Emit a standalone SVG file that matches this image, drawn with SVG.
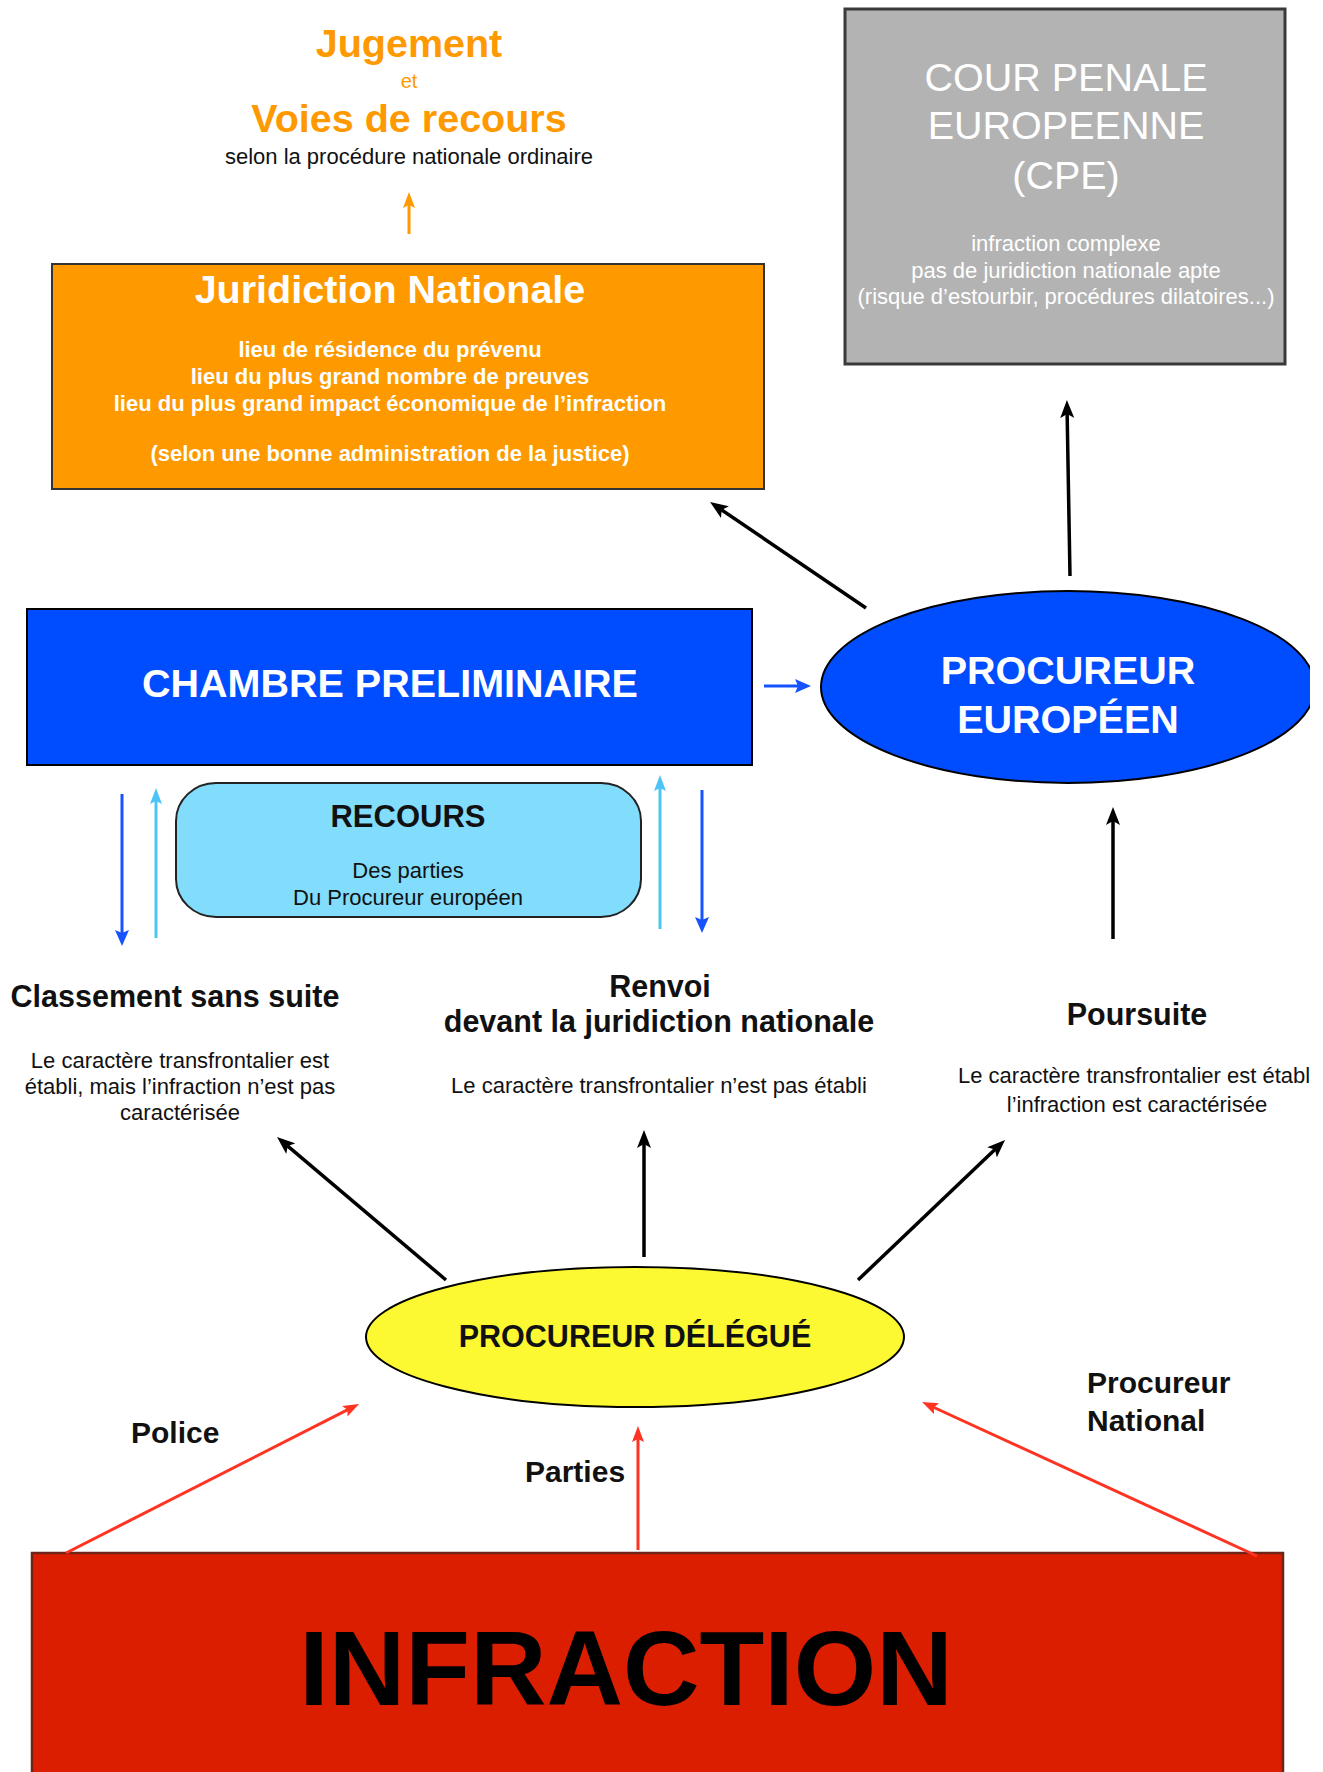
<svg xmlns="http://www.w3.org/2000/svg" width="1323" height="1772" viewBox="0 0 1323 1772">
<defs>
<style>
text{font-family:"Liberation Sans",Arial,Helvetica,sans-serif;}
.b{font-weight:bold}
.c{text-anchor:middle}
.w{fill:#ffffff}
.k{fill:#111111}
.o{fill:#ff9900}
.ln{fill:none;stroke-linecap:butt}
.lk{stroke:#000;stroke-width:3.5}
.lr{stroke:#ff3322;stroke-width:3}
.lb{stroke:#1652ff;stroke-width:3}
.lc{stroke:#4cc4f5;stroke-width:3}
.lo{stroke:#ff9900;stroke-width:3}
</style>
<marker id="ah-k" viewBox="0 0 18 14" refX="12" refY="7" markerWidth="18" markerHeight="14" markerUnits="userSpaceOnUse" orient="auto"><path d="M0,0 L18,7 L0,14 L4,7 z" fill="#000"/></marker>
<marker id="ah-r" viewBox="0 0 16 12" refX="10" refY="6" markerWidth="16" markerHeight="12" markerUnits="userSpaceOnUse" orient="auto"><path d="M0,0 L16,6 L0,12 L3,6 z" fill="#ff3322"/></marker>
<marker id="ah-b" viewBox="0 0 16 14" refX="10" refY="7" markerWidth="16" markerHeight="14" markerUnits="userSpaceOnUse" orient="auto"><path d="M0,0 L16,7 L0,14 L3,7 z" fill="#1652ff"/></marker>
<marker id="ah-c" viewBox="0 0 16 12" refX="10" refY="6" markerWidth="16" markerHeight="12" markerUnits="userSpaceOnUse" orient="auto"><path d="M0,0 L16,6 L0,12 L3,6 z" fill="#4cc4f5"/></marker>
<marker id="ah-o" viewBox="0 0 16 12" refX="10" refY="6" markerWidth="16" markerHeight="12" markerUnits="userSpaceOnUse" orient="auto"><path d="M0,0 L16,6 L0,12 L3,6 z" fill="#ff9900"/></marker>
<clipPath id="clipR"><rect x="0" y="0" width="1310" height="1772"/></clipPath>
</defs>
<rect x="0" y="0" width="1323" height="1772" fill="#ffffff"/>

<g id="jugement">
<text class="b c o" x="409" y="57" font-size="39.5">Jugement</text>
<text class="c o" x="409" y="88" font-size="20">et</text>
<text class="b c o" x="409" y="132" font-size="39.5">Voies de recours</text>
<text class="c k" x="409" y="164" font-size="22">selon la procédure nationale ordinaire</text>
</g>

<g id="cour-penale-europeenne">
<rect x="845" y="9" width="440" height="355" fill="#b3b3b3" stroke="#3a3a3a" stroke-width="3"/>
<text class="c w" x="1066" y="91" font-size="39.5">COUR PENALE</text>
<text class="c w" x="1066" y="139" font-size="39.5">EUROPEENNE</text>
<text class="c w" x="1066" y="189" font-size="39.5">(CPE)</text>
<text class="c w" x="1066" y="251" font-size="22">infraction complexe</text>
<text class="c w" x="1066" y="278" font-size="22">pas de juridiction nationale apte</text>
<text class="c w" x="1066" y="304" font-size="22">(risque d’estourbir, procédures dilatoires...)</text>
</g>

<g id="juridiction-nationale">
<rect x="52" y="264" width="712" height="225" fill="#ff9900" stroke="#333333" stroke-width="2"/>
<text class="b c w" x="390" y="303" font-size="39.5">Juridiction Nationale</text>
<text class="b c w" x="390" y="357" font-size="22">lieu de résidence du prévenu</text>
<text class="b c w" x="390" y="384" font-size="22">lieu du plus grand nombre de preuves</text>
<text class="b c w" x="390" y="411" font-size="22">lieu du plus grand impact économique de l’infraction</text>
<text class="b c w" x="390" y="461" font-size="22">(selon une bonne administration de la justice)</text>
</g>

<g id="chambre-preliminaire">
<rect x="27" y="609" width="725" height="156" fill="#004cff" stroke="#000" stroke-width="2"/>
<text class="b c w" x="390" y="697" font-size="39.5">CHAMBRE PRELIMINAIRE</text>
</g>

<g id="procureur-europeen">
<ellipse cx="1068" cy="687" rx="247" ry="96" fill="#004cff" stroke="#000" stroke-width="2" clip-path="url(#clipR)"/>
<text class="b c w" x="1068" y="684" font-size="39.5">PROCUREUR</text>
<text class="b c w" x="1068" y="733" font-size="39.5">EUROPÉEN</text>
</g>

<g id="recours">
<rect x="176" y="783" width="465" height="134" rx="40" ry="38" fill="#82dcfc" stroke="#222" stroke-width="2"/>
<text class="b c k" x="408" y="827" font-size="31">RECOURS</text>
<text class="c k" x="408" y="878" font-size="22">Des parties</text>
<text class="c k" x="408" y="905" font-size="22">Du Procureur européen</text>
</g>

<g id="classement-sans-suite">
<text class="b c k" x="175" y="1007" font-size="30.5">Classement sans suite</text>
<text class="c k" x="180" y="1068" font-size="22">Le caractère transfrontalier est</text>
<text class="c k" x="180" y="1094" font-size="22">établi, mais l’infraction n’est pas</text>
<text class="c k" x="180" y="1120" font-size="22">caractérisée</text>
</g>

<g id="renvoi">
<text class="b c k" x="660" y="997" font-size="30.5">Renvoi</text>
<text class="b c k" x="659" y="1032" font-size="30.5">devant la juridiction nationale</text>
<text class="c k" x="659" y="1093" font-size="22">Le caractère transfrontalier n’est pas établi</text>
</g>

<g id="poursuite">
<text class="b c k" x="1137" y="1025" font-size="30.5">Poursuite</text>
<text class="k" x="958" y="1083" font-size="22">Le caractère transfrontalier est établ</text>
<text class="c k" x="1137" y="1112" font-size="22">l’infraction est caractérisée</text>
</g>

<g id="procureur-delegue">
<ellipse cx="635" cy="1337" rx="269" ry="70" fill="#fcf932" stroke="#000" stroke-width="2"/>
<text class="b c k" x="635" y="1347" font-size="30.5">PROCUREUR DÉLÉGUÉ</text>
</g>

<g id="infraction">
<rect x="32" y="1553" width="1251" height="240" fill="#dc1e00" stroke="#6e2418" stroke-width="2.5"/>
<text class="b c" x="626" y="1705" font-size="106" fill="#000">INFRACTION</text>
</g>

<g id="connectors">
<line class="ln lo" x1="409" y1="234" x2="409" y2="198" marker-end="url(#ah-o)"/>
<line class="ln lk" x1="1070" y1="576" x2="1067" y2="406" marker-end="url(#ah-k)"/>
<line class="ln lk" x1="866" y1="608" x2="715" y2="505.4" marker-end="url(#ah-k)"/>
<line class="ln lb" x1="764" y1="686" x2="805" y2="686" marker-end="url(#ah-b)"/>
<line class="ln lk" x1="1113" y1="939" x2="1113" y2="813" marker-end="url(#ah-k)"/>
<line class="ln lb" x1="122" y1="794" x2="122" y2="940" marker-end="url(#ah-b)"/>
<line class="ln lc" x1="156" y1="938" x2="156" y2="794" marker-end="url(#ah-c)"/>
<line class="ln lc" x1="660" y1="929" x2="660" y2="781" marker-end="url(#ah-c)"/>
<line class="ln lb" x1="702" y1="790" x2="702" y2="927" marker-end="url(#ah-b)"/>
<line class="ln lk" x1="446" y1="1280" x2="281.6" y2="1140.9" marker-end="url(#ah-k)"/>
<line class="ln lk" x1="644" y1="1257" x2="644" y2="1136" marker-end="url(#ah-k)"/>
<line class="ln lk" x1="858" y1="1280" x2="1000.7" y2="1144.1" marker-end="url(#ah-k)"/>
<line class="ln lr" x1="66" y1="1553" x2="353.7" y2="1406.7" marker-end="url(#ah-r)"/>
<line class="ln lr" x1="638" y1="1550" x2="638" y2="1432" marker-end="url(#ah-r)"/>
<line class="ln lr" x1="1257" y1="1556" x2="927.5" y2="1404.5" marker-end="url(#ah-r)"/>
</g>

<g id="connector-labels">
<text class="b k" x="131" y="1443" font-size="30">Police</text>
<text class="b k" x="525" y="1482" font-size="30">Parties</text>
<text class="b k" x="1087" y="1393" font-size="30">Procureur</text>
<text class="b k" x="1087" y="1431" font-size="30">National</text>
</g>
</svg>
